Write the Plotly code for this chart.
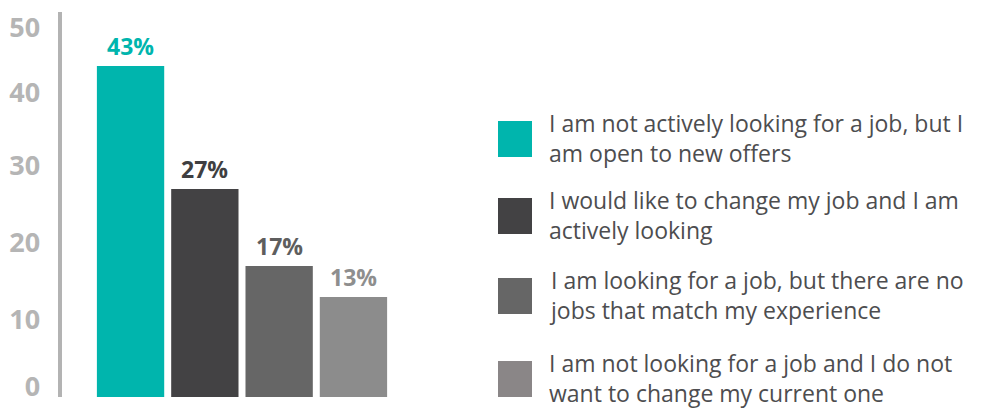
import plotly.graph_objects as go

categories = [
    "I am not actively looking for a job, but I<br>am open to new offers",
    "I would like to change my job and I am<br>actively looking",
    "I am looking for a job, but there are no<br>jobs that match my experience",
    "I am not looking for a job and I do not<br>want to change my current one",
]
values = [43, 27, 17, 13]
bar_colors = ["#00b5ad", "#434244", "#666666", "#8c8c8c"]
swatch_colors = ["#00b5ad", "#434244", "#666666", "#8a8687"]
label_colors = ["#00b5ad", "#3f3f41", "#5e5e5e", "#8e8e8e"]
tick_vals = [1.4, 10, 20, 30, 39.5, 48]
tick_text = ["0", "10", "20", "30", "40", "50"]

W, H = 982, 409
T, B = 12, 12
PH = H - T - B

fig = go.Figure()
fig.add_trace(go.Bar(
    x=categories, y=values,
    marker=dict(color=bar_colors, line=dict(width=0)),
    hoverinfo="skip",
))

for c, v, col in zip(categories, values, label_colors):
    fig.add_annotation(
        x=c, y=v, text=f"<b>{v}%</b>", showarrow=False,
        yanchor="middle", yshift=20,
        font=dict(family="Open Sans", size=23, color=col),
    )

# manual legend
legend_centers_px = [139, 216, 296, 379]
for c, col, cy in zip(categories, swatch_colors, legend_centers_px):
    yc = (H - B - cy) / PH
    fig.add_shape(
        type="rect", xref="paper", yref="paper",
        x0=498 / W, x1=532 / W, y0=yc - 18 / PH, y1=yc + 18 / PH,
        fillcolor=col, line=dict(width=0),
    )
    fig.add_annotation(
        xref="paper", yref="paper", x=548 / W, y=yc + 1 / PH,
        xanchor="left", yanchor="middle", align="left",
        text=c, showarrow=False, borderpad=0,
        font=dict(family="Open Sans", size=23, color="#4d4d4f"),
    )

fig.update_layout(
    width=W, height=H,
    margin=dict(l=0, r=0, t=T, b=B),
    paper_bgcolor="white", plot_bgcolor="white",
    bargap=0.094,
    showlegend=False,
    xaxis=dict(domain=[93.4 / W, 390.6 / W], showticklabels=False,
               showgrid=False, zeroline=False, showline=False,
               range=[-0.5, 3.5]),
    yaxis=dict(range=[0, 50], anchor="free", position=59.5 / W,
               showline=True, linewidth=4, linecolor="#b3b3b3",
               showgrid=False, zeroline=False,
               tickmode="array", tickvals=tick_vals, ticktext=tick_text,
               ticks="", ticklabelstandoff=12,
               tickfont=dict(family="Open Sans", size=27, color="#b5b5b5", weight="bold")),
)

fig.write_html("out.html")
